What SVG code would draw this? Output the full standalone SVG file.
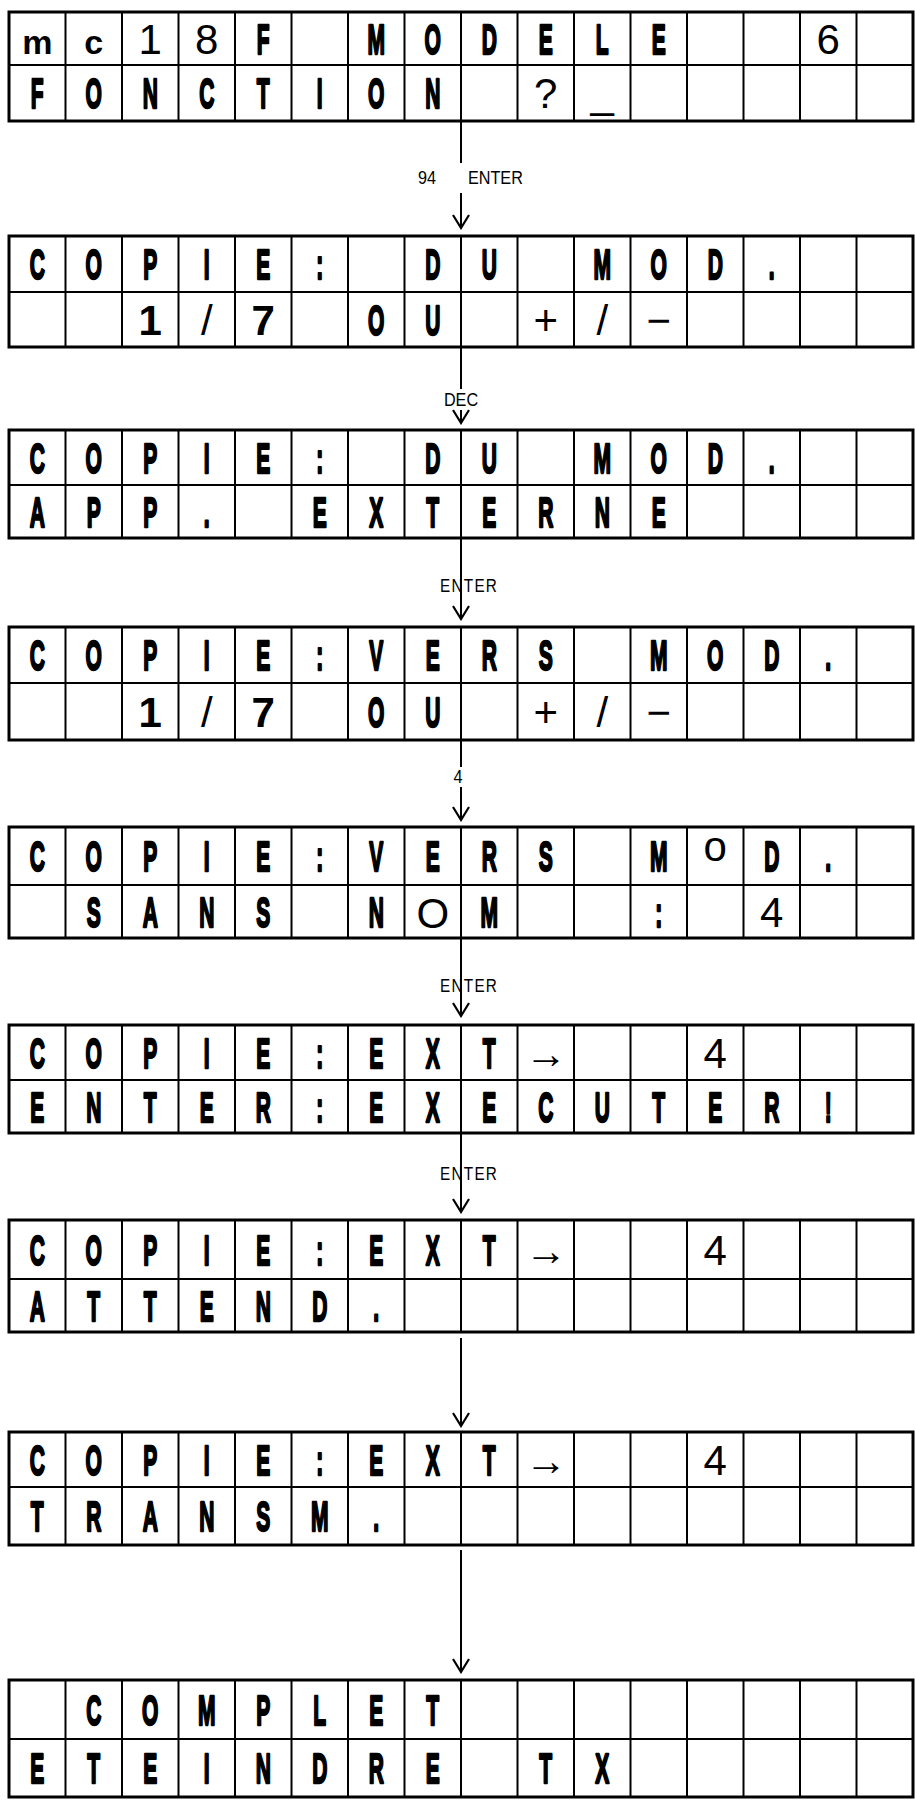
<svg xmlns="http://www.w3.org/2000/svg" xmlns:xlink="http://www.w3.org/1999/xlink" width="915" height="1804" viewBox="0 0 915 1804">
<style>
.out{fill:none;stroke:#000;stroke-width:3}
.in{fill:none;stroke:#000;stroke-width:2;vector-effect:non-scaling-stroke}
.b{font-family:"Liberation Sans",Arial,sans-serif;font-weight:700;font-size:42px;text-anchor:middle;fill:#000;stroke:#000;stroke-width:2.4;stroke-linejoin:round}
.r{font-family:"Liberation Sans",Arial,sans-serif;font-size:42px;text-anchor:middle;fill:#000}
.rb{font-family:"Liberation Sans",Arial,sans-serif;font-weight:700;font-size:42px;text-anchor:middle;fill:#000}
.lc{font-family:"Liberation Sans",Arial,sans-serif;font-weight:700;font-size:34px;text-anchor:middle;fill:#000}
.lab{font-family:"Liberation Sans",Arial,sans-serif;font-size:18px;fill:#000}
.con line{stroke:#000;stroke-width:2}
</style>
<defs>
<g id="cols"><path class="in" d="M65.5 0V1M122 0V1M178.5 0V1M235 0V1M291.5 0V1M348 0V1M404.5 0V1M461 0V1M517.5 0V1M574 0V1M630.5 0V1M687 0V1M743.5 0V1M800 0V1M856.5 0V1"/></g>
<marker id="ah" markerUnits="userSpaceOnUse" viewBox="-16 -10 18 20" markerWidth="18" markerHeight="20" refX="0" refY="0" orient="auto"><path d="M-13,-8 L0,0 L-13,8" fill="none" stroke="#000" stroke-width="2.2"/></marker>
</defs>
<rect width="915" height="1804" fill="#fff"/>

<g id="connectors" class="con">
<line x1="461" y1="121" x2="461" y2="163"/>
<line x1="461" y1="193" x2="461" y2="228" marker-end="url(#ah)"/>
<line x1="461" y1="347" x2="461" y2="389"/>
<line x1="461" y1="410" x2="461" y2="423" marker-end="url(#ah)"/>
<line x1="461" y1="538" x2="461" y2="619" marker-end="url(#ah)"/>
<line x1="461" y1="740" x2="461" y2="767"/>
<line x1="461" y1="787" x2="461" y2="820" marker-end="url(#ah)"/>
<line x1="461" y1="938" x2="461" y2="1016" marker-end="url(#ah)"/>
<line x1="461" y1="1133" x2="461" y2="1212" marker-end="url(#ah)"/>
<line x1="461" y1="1338" x2="461" y2="1426" marker-end="url(#ah)"/>
<line x1="461" y1="1550" x2="461" y2="1672" marker-end="url(#ah)"/>
</g>

<g id="labels">
<text class="lab" text-anchor="middle" transform="translate(427 184) scale(.9 1)">94</text>
<text class="lab" transform="translate(468 184) scale(.9 1)">ENTER</text>
<text class="lab" text-anchor="middle" transform="translate(461 406) scale(.9 1)">DEC</text>
<text class="lab" letter-spacing="1.5" transform="translate(440 592) scale(.85 1)">ENTER</text>
<text class="lab" text-anchor="middle" transform="translate(458 783) scale(.9 1)">4</text>
<text class="lab" letter-spacing="1.5" transform="translate(440 992) scale(.85 1)">ENTER</text>
<text class="lab" letter-spacing="1.5" transform="translate(440 1180) scale(.85 1)">ENTER</text>
</g>

<g id="d1">
<use xlink:href="#cols" transform="translate(0 12) scale(1 109)"/>
<path class="in" d="M9 65H913"/>
<rect class="out" x="9" y="12" width="904" height="109"/>
<g transform="translate(0 53.5)">
<text class="lc" x="37.25" y="0">m</text><text class="lc" x="93.75" y="0">c</text>
<text class="r" x="150.25" y="0">1</text><text class="r" x="206.75" y="0">8</text>
<text class="b" transform="scale(.5 1)" x="526.5" y="0">F</text>
<text class="b" transform="scale(.5 1)" x="752.5 865.5 978.5 1091.5 1204.5 1317.5" y="0">MODELE</text>
<text class="r" x="828.25" y="0">6</text>
</g>
<g transform="translate(0 108)">
<text class="b" transform="scale(.5 1)" x="74.5 187.5 300.5 413.5 526.5 639.5 752.5 865.5" y="0">FONCTION</text>
<text class="r" x="545.75" y="0">?</text>
<text class="r" x="602.25" y="0">_</text>
</g>
</g>

<g id="d2">
<use xlink:href="#cols" transform="translate(0 236) scale(1 111)"/>
<path class="in" d="M9 292H913"/>
<rect class="out" x="9" y="236" width="904" height="111"/>
<g transform="translate(0 279)">
<text class="b" transform="scale(.5 1)" x="74.5 187.5 300.5 413.5 526.5 639.5 752.5 865.5 978.5 1091.5 1204.5 1317.5 1430.5 1543.5" y="0">COPIE: DU MOD.</text>
</g>
<g transform="translate(0 334.5)">
<text class="rb" x="150.25" y="0">1</text><text class="r" x="206.75" y="0">/</text><text class="rb" x="263.25" y="0">7</text>
<text class="b" transform="scale(.5 1)" x="752.5 865.5" y="0">OU</text>
<text class="r" x="545.75" y="0">+</text><text class="r" x="602.25" y="0">/</text><text class="r" x="658.75" y="0">−</text>
</g>
</g>

<g id="d3">
<use xlink:href="#cols" transform="translate(0 430) scale(1 108)"/>
<path class="in" d="M9 485H913"/>
<rect class="out" x="9" y="430" width="904" height="108"/>
<g transform="translate(0 472.5)">
<text class="b" transform="scale(.5 1)" x="74.5 187.5 300.5 413.5 526.5 639.5 752.5 865.5 978.5 1091.5 1204.5 1317.5 1430.5 1543.5" y="0">COPIE: DU MOD.</text>
</g>
<g transform="translate(0 526.5)">
<text class="b" transform="scale(.5 1)" x="74.5 187.5 300.5 413.5 526.5 639.5 752.5 865.5 978.5 1091.5 1204.5 1317.5" y="0">APP. EXTERNE</text>
</g>
</g>

<g id="d4">
<use xlink:href="#cols" transform="translate(0 627) scale(1 113)"/>
<path class="in" d="M9 683H913"/>
<rect class="out" x="9" y="627" width="904" height="113"/>
<g transform="translate(0 670)">
<text class="b" transform="scale(.5 1)" x="74.5 187.5 300.5 413.5 526.5 639.5 752.5 865.5 978.5 1091.5 1204.5 1317.5 1430.5 1543.5 1656.5" y="0">COPIE:VERS MOD.</text>
</g>
<g transform="translate(0 726.5)">
<text class="rb" x="150.25" y="0">1</text><text class="r" x="206.75" y="0">/</text><text class="rb" x="263.25" y="0">7</text>
<text class="b" transform="scale(.5 1)" x="752.5 865.5" y="0">OU</text>
<text class="r" x="545.75" y="0">+</text><text class="r" x="602.25" y="0">/</text><text class="r" x="658.75" y="0">−</text>
</g>
</g>

<g id="d5">
<use xlink:href="#cols" transform="translate(0 827) scale(1 111)"/>
<path class="in" d="M9 885H913"/>
<rect class="out" x="9" y="827" width="904" height="111"/>
<g transform="translate(0 871)">
<text class="b" transform="scale(.5 1)" x="74.5 187.5 300.5 413.5 526.5 639.5 752.5 865.5 978.5 1091.5 1204.5 1317.5" y="0">COPIE:VERS M</text>
<text class="r" x="715.25" y="-10" font-size="28">o</text>
<text class="b" transform="scale(.5 1)" x="1543.5 1656.5" y="0">D.</text>
</g>
<g transform="translate(0 926.5)">
<text class="b" transform="scale(.5 1)" x="187.5 300.5 413.5 526.5 639.5 752.5" y="0">SANS N</text>
<text class="r" x="432.75" y="1" font-size="44">O</text>
<text class="b" transform="scale(.5 1)" x="978.5" y="0">M</text>
<text class="b" transform="scale(.5 1)" x="1317.5" y="0">:</text>
<text class="r" x="771.75" y="0">4</text>
</g>
</g>

<g id="d6">
<use xlink:href="#cols" transform="translate(0 1025) scale(1 108)"/>
<path class="in" d="M9 1080H913"/>
<rect class="out" x="9" y="1025" width="904" height="108"/>
<g transform="translate(0 1067.5)">
<text class="b" transform="scale(.5 1)" x="74.5 187.5 300.5 413.5 526.5 639.5 752.5 865.5 978.5" y="0">COPIE:EXT</text>
<text class="r" x="545.75" y="0" font-size="28">→</text>
<text class="r" x="715.25" y="0">4</text>
</g>
<g transform="translate(0 1121.5)">
<text class="b" transform="scale(.5 1)" x="74.5 187.5 300.5 413.5 526.5 639.5 752.5 865.5 978.5 1091.5 1204.5 1317.5 1430.5 1543.5 1656.5" y="0">ENTER:EXECUTER!</text>
</g>
</g>

<g id="d7">
<use xlink:href="#cols" transform="translate(0 1220) scale(1 112)"/>
<path class="in" d="M9 1279H913"/>
<rect class="out" x="9" y="1220" width="904" height="112"/>
<g transform="translate(0 1264.5)">
<text class="b" transform="scale(.5 1)" x="74.5 187.5 300.5 413.5 526.5 639.5 752.5 865.5 978.5" y="0">COPIE:EXT</text>
<text class="r" x="545.75" y="0" font-size="28">→</text>
<text class="r" x="715.25" y="0">4</text>
</g>
<g transform="translate(0 1320.5)">
<text class="b" transform="scale(.5 1)" x="74.5 187.5 300.5 413.5 526.5 639.5 752.5" y="0">ATTEND.</text>
</g>
</g>

<g id="d8">
<use xlink:href="#cols" transform="translate(0 1432) scale(1 113)"/>
<path class="in" d="M9 1487H913"/>
<rect class="out" x="9" y="1432" width="904" height="113"/>
<g transform="translate(0 1474.5)">
<text class="b" transform="scale(.5 1)" x="74.5 187.5 300.5 413.5 526.5 639.5 752.5 865.5 978.5" y="0">COPIE:EXT</text>
<text class="r" x="545.75" y="0" font-size="28">→</text>
<text class="r" x="715.25" y="0">4</text>
</g>
<g transform="translate(0 1531)">
<text class="b" transform="scale(.5 1)" x="74.5 187.5 300.5 413.5 526.5 639.5 752.5" y="0">TRANSM.</text>
</g>
</g>

<g id="d9">
<use xlink:href="#cols" transform="translate(0 1680) scale(1 117)"/>
<path class="in" d="M9 1739H913"/>
<rect class="out" x="9" y="1680" width="904" height="117"/>
<g transform="translate(0 1724.5)">
<text class="b" transform="scale(.5 1)" x="187.5 300.5 413.5 526.5 639.5 752.5 865.5" y="0">COMPLET</text>
</g>
<g transform="translate(0 1783)">
<text class="b" transform="scale(.5 1)" x="74.5 187.5 300.5 413.5 526.5 639.5 752.5 865.5 978.5 1091.5 1204.5" y="0">ETEINDRE TX</text>
</g>
</g>
</svg>
